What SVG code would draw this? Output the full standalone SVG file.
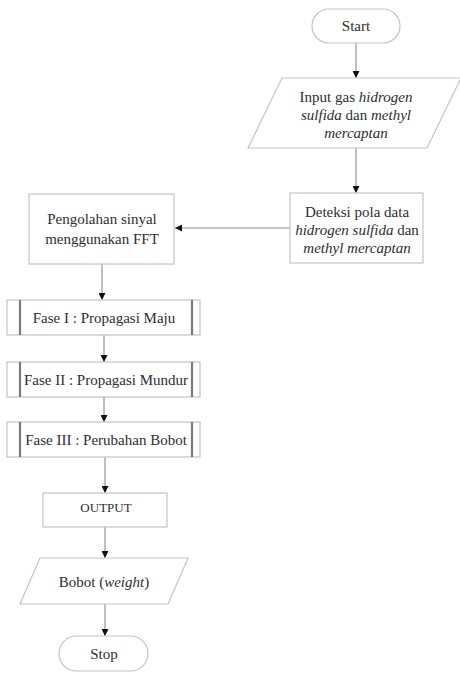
<svg xmlns="http://www.w3.org/2000/svg" width="460" height="675" viewBox="0 0 460 675">
<style>
.box{fill:#fff;stroke:#c4c4c4;stroke-width:1.2}
.bar{stroke:#7a7a7a;stroke-width:2.2}
.t{font-family:"Liberation Serif","Times New Roman",serif;font-size:15px;fill:#2e2e2e;text-anchor:middle}
.s{font-size:13px}
.i{font-style:italic}
.c{fill:none;stroke:#8a8a8a;stroke-width:1.1}
</style>
<defs>
<marker id="ah" viewBox="0 0 10 10" refX="10" refY="5" markerWidth="7" markerHeight="7" markerUnits="userSpaceOnUse" orient="auto">
<path d="M0,0 L10,5 L0,10 z" fill="#111"/>
</marker>
</defs>
<rect width="460" height="675" fill="#fff"/>
<g id="connectors">
<line class="c" x1="356" y1="43" x2="356" y2="78" marker-end="url(#ah)"/>
<line class="c" x1="356" y1="148" x2="356" y2="193" marker-end="url(#ah)"/>
<line class="c" x1="290" y1="228" x2="175" y2="228" marker-end="url(#ah)"/>
<line class="c" x1="102" y1="264" x2="102" y2="300" marker-end="url(#ah)"/>
<line class="c" x1="104" y1="335" x2="104" y2="362" marker-end="url(#ah)"/>
<line class="c" x1="104" y1="397" x2="104" y2="422" marker-end="url(#ah)"/>
<line class="c" x1="105" y1="457" x2="105" y2="493" marker-end="url(#ah)"/>
<line class="c" x1="105" y1="527" x2="105" y2="558" marker-end="url(#ah)"/>
<line class="c" x1="105" y1="604" x2="105" y2="636" marker-end="url(#ah)"/>
</g>
<g id="start">
<rect class="box" x="312" y="9" width="88" height="34" rx="17"/>
<text class="t" x="356" y="31">Start</text>
</g>
<g id="input">
<polygon class="box" points="282,78 461,78 427,148 248,148"/>
<text class="t" x="356" y="102">Input gas <tspan class="i">hidrogen</tspan></text>
<text class="t" x="356" y="120"><tspan class="i">sulfida</tspan> dan <tspan class="i">methyl</tspan></text>
<text class="t i" x="356" y="138">mercaptan</text>
</g>
<g id="deteksi">
<rect class="box" x="290" y="193" width="133" height="70"/>
<text class="t" x="357" y="217">Deteksi pola data</text>
<text class="t" x="357" y="235"><tspan class="i">hidrogen sulfida</tspan> dan</text>
<text class="t i" x="357" y="253">methyl mercaptan</text>
</g>
<g id="pengolahan">
<rect class="box" x="29" y="194" width="145" height="70"/>
<text class="t" x="102" y="224">Pengolahan sinyal</text>
<text class="t" x="102" y="244">menggunakan FFT</text>
</g>
<g id="fase1">
<rect class="box" x="7" y="300" width="193" height="35"/>
<line class="bar" x1="20" y1="300" x2="20" y2="335"/>
<line class="bar" x1="192" y1="300" x2="192" y2="335"/>
<text class="t" x="104" y="323">Fase I : Propagasi Maju</text>
</g>
<g id="fase2">
<rect class="box" x="7" y="362" width="193" height="35"/>
<line class="bar" x1="20" y1="362" x2="20" y2="397"/>
<line class="bar" x1="192" y1="362" x2="192" y2="397"/>
<text class="t" x="106" y="385">Fase II : Propagasi Mundur</text>
</g>
<g id="fase3">
<rect class="box" x="7" y="422" width="193" height="35"/>
<line class="bar" x1="20" y1="422" x2="20" y2="457"/>
<line class="bar" x1="192" y1="422" x2="192" y2="457"/>
<text class="t" x="106" y="445">Fase III : Perubahan Bobot</text>
</g>
<g id="output">
<rect class="box" x="43" y="493" width="124" height="34"/>
<text class="t s" x="106" y="512">OUTPUT</text>
</g>
<g id="bobot">
<polygon class="box" points="40,558 188,558 168,604 20,604"/>
<text class="t" x="104" y="587">Bobot (<tspan class="i">weight</tspan>)</text>
</g>
<g id="stop">
<rect class="box" x="59" y="636" width="89" height="35" rx="17.5"/>
<text class="t" x="104" y="659">Stop</text>
</g>
</svg>
